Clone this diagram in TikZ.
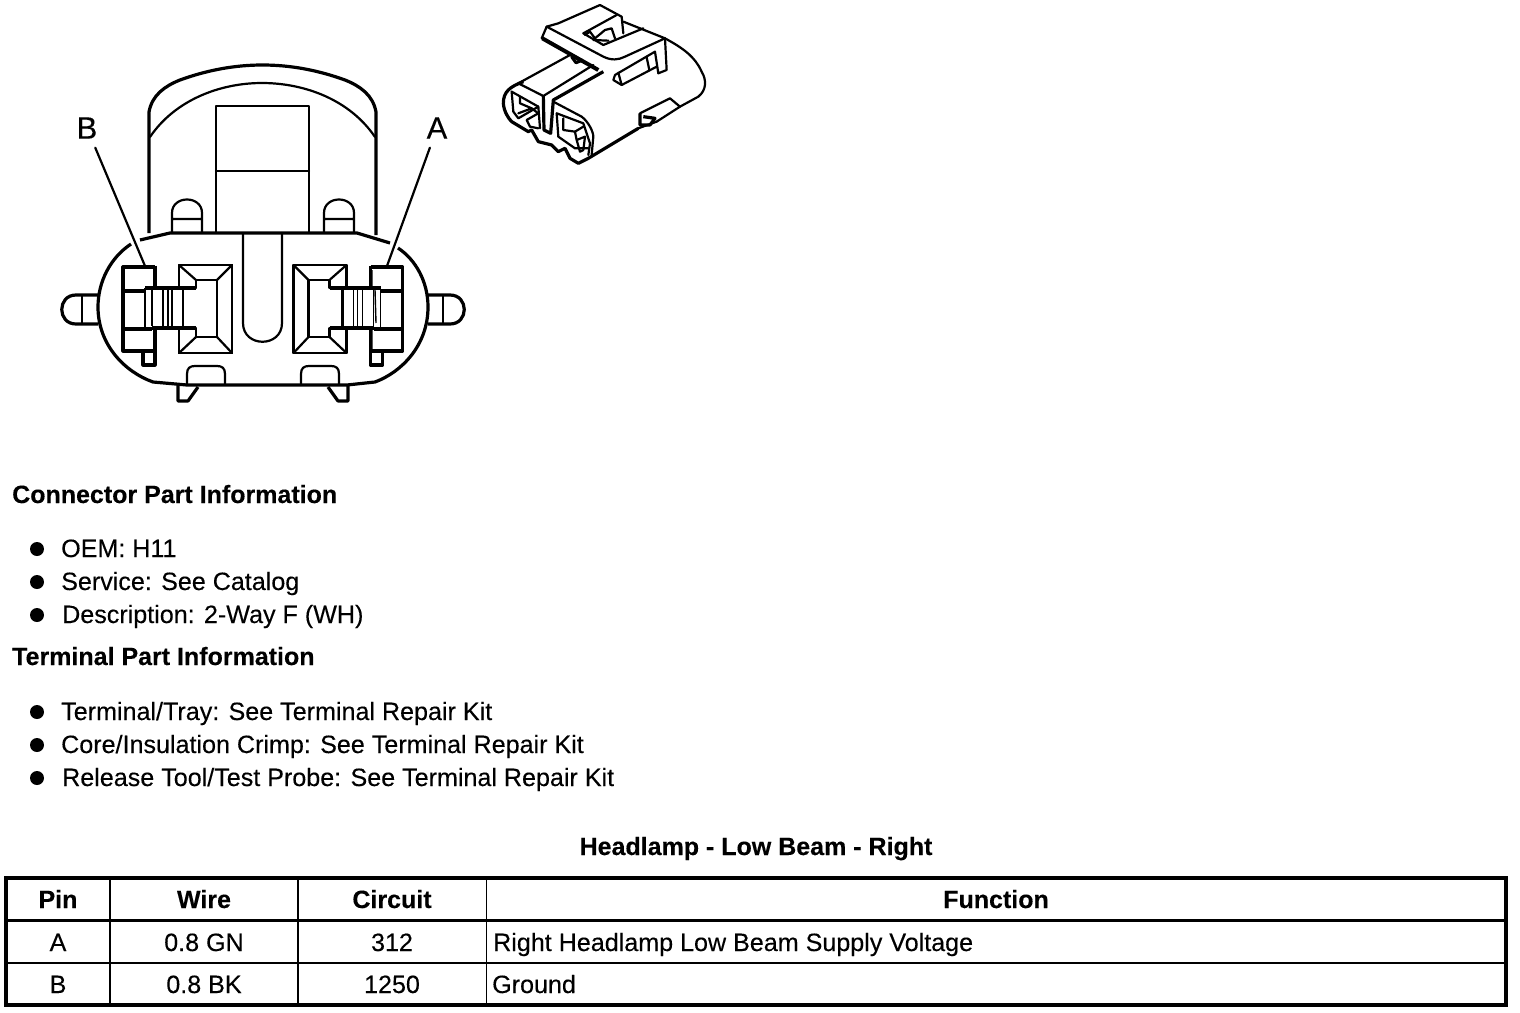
\documentclass[tikz,border=0pt]{standalone}
\usepackage{fontspec}
\setmainfont{Liberation Sans}[FakeBold=0.2,BoldFeatures={FakeBold=0.2}]
\tikzset{
  part/.style={line width=2.2pt,line join=round,line cap=round},
  heavy/.style={line width=3.2pt,line join=round},
  thinline/.style={line width=1.4pt},
  txt/.style={anchor=base west,inner sep=0pt,font=\fontsize{25.1}{28}\selectfont},
  head/.style={anchor=base west,inner sep=0pt,font=\fontsize{25}{28}\selectfont\bfseries},
  cell/.style={anchor=base,inner sep=0pt,font=\fontsize{25.1}{28}\selectfont},
  headcell/.style={anchor=base,inner sep=0pt,font=\fontsize{25}{28}\selectfont\bfseries},
  pinlabel/.style={inner sep=0pt,outer sep=9pt,font=\fontsize{31}{34}\selectfont},
  dot/.style={circle,fill=black,inner sep=0pt,minimum size=14pt},
}
\newcommand{\terminal}{
    \draw[heavy] (155,267) -- (123,267) -- (123,351) -- (155,351);
    \draw[heavy] (155,265.5) -- (155,288);
    \draw[heavy] (155,329) -- (155,365) -- (143,365) -- (143,351);
    \draw[heavy] (123,291) -- (145,291) (123,329) -- (152,329);
    \draw[heavy] (145,288) -- (196,288) (152,328) -- (196,328);
    \draw[thinline] (145,288) -- (145,328) (152,288) -- (152,326);
    \draw[thinline] (163,288) -- (163,328) (168,288) -- (168,328) (172,288) -- (172,328);
    \draw[part] (183,288) -- (183,328);
    \draw[part] (179,288) -- (179,265) -- (232,265) -- (232,353) -- (179,353) -- (179,328);
    \draw[part] (196,288) -- (196,280) -- (217,280) -- (217,337) -- (196,337) -- (196,328);
    \draw[part] (179,265) -- (196,280) (232,265) -- (217,280) (232,353) -- (217,337) (179,353) -- (196,337);
}
\begin{document}
\begin{tikzpicture}[x=1pt,y=-1pt]
    \useasboundingbox (0,0) rectangle (1520,1012);
    % rear shell
    \draw[heavy] (149,233) -- (149,112) .. controls (152,95) and (165,86) .. (180,80) .. controls (235,60) and (290,60) .. (345,80) .. controls (360,86) and (373,95) .. (376,112) -- (376,235);
    \draw[part] (150,137) .. controls (175,100) and (220,83) .. (262,83) .. controls (305,83) and (350,100) .. (375,137);
    \draw[part] (216,233) -- (216,106) -- (309,106) -- (309,233) (216,171) -- (309,171);
    \draw[part] (172,233) -- (172,213) .. controls (172,195) and (202,195) .. (202,213) -- (202,233) (172,219) -- (202,219);
    \draw[part] (324,233) -- (324,213) .. controls (324,195) and (354,195) .. (354,213) -- (354,233) (324,219) -- (354,219);
    % body
    \draw[heavy] (140,240) -- (170,233) -- (357,233) -- (390,243);
    \draw[heavy] (131,244) .. controls (110,258) and (98,282) .. (98,307) .. controls (98,345) and (125,372) .. (153,382) -- (187,385) -- (347,385) -- (375,382) .. controls (402,372) and (428,345) .. (428,307) .. controls (428,282) and (416,260) .. (398,248);
    \draw[part] (243,233) -- (243,323) .. controls (243,348) and (282,348) .. (282,323) -- (282,233);
    % side tabs
    \draw[heavy] (98,295) -- (76,295) .. controls (57,295) and (57,324) .. (76,324) -- (98,324);
    \draw[part] (82,295) -- (82,324);
    \draw[heavy] (428,295) -- (450,295) .. controls (469,295) and (469,324) .. (450,324) -- (428,324);
    \draw[part] (443,295) -- (443,324);
    % bottom notches and feet
    \draw[part] (187,385) -- (187,374) .. controls (187,368) and (190,366) .. (195,366) -- (217,366) .. controls (222,366) and (225,368) .. (225,374) -- (225,385);
    \draw[part] (301,385) -- (301,374) .. controls (301,368) and (304,366) .. (309,366) -- (331,366) .. controls (336,366) and (339,368) .. (339,374) -- (339,385);
    \draw[heavy] (178,385) -- (178,401) -- (188,401) -- (198,387);
    \draw[heavy] (328,387) -- (338,401) -- (348,401) -- (348,385);
    % terminals
    \terminal
    \begin{scope}[shift={(525.5,0)},xscale=-1]
        \terminal
    \end{scope}
    \draw[thinline] (372,270) -- (372,288) (375,290) -- (376,323) (372,330) -- (372,352);
    % pin labels
    \node[pinlabel] (labB) at (87,128) {B};
    \node[pinlabel] (labA) at (437,128) {A};
    \coordinate (endB) at (145,266);
    \coordinate (endA) at (387,266);
    \draw[part] (labB) -- (endB);
    \draw[part] (labA) -- (endA);
    % connector sketch
    \begin{scope}[shift={(490,0)},x=0.3333pt,y=-0.3333pt]
        \draw[heavy] (100,245) .. controls (60,260) and (40,275) .. (40,310) .. controls (42,335) and (55,355) .. (65,365) -- (115,395) -- (125,390) -- (145,425) -- (185,435) -- (205,455) -- (225,445) -- (240,475) -- (265,490) -- (295,475) -- (445,385);
        \draw[part] (500,365) -- (445,385);
        \draw[part] (570,320) -- (625,290) .. controls (650,270) and (650,240) .. (635,215) .. controls (615,170) and (580,145) .. (525,115);
        \draw[part] (85,250) -- (240,165);
        \draw[part] (85,250) -- (160,288) -- (310,195);
        \draw[heavy] (160,288) -- (162,390) -- (182,400) -- (190,300) -- (340,215);
        \draw[part] (190,305) -- (275,350) .. controls (295,365) and (310,395) .. (310,410) -- (305,465);
        % left opening
        \draw[part] (65,275) -- (70,335) -- (85,355) -- (145,320) -- (150,385);
        \draw[part] (65,275) -- (145,320);
        \draw[part] (90,290) -- (90,310) -- (125,325) -- (85,340);
        \draw[part] (125,325) -- (145,340) -- (110,360) -- (120,380) -- (145,385);
        % right opening
        \draw[part] (200,340) -- (205,410) -- (255,445) -- (295,445);
        \draw[part] (200,340) -- (280,370) -- (300,430) -- (295,465);
        \draw[part] (220,355) -- (220,390) -- (255,395) -- (280,380);
        \draw[part] (255,395) -- (260,420) -- (285,410) -- (280,450) -- (270,455) -- (260,420);
        % clip
        \draw[line width=4pt,line join=round] (157,115) -- (325,210);
        \draw[part] (170,80) -- (155,115);
        \draw[part] (170,80) -- (205,70) -- (330,15) -- (395,50) -- (400,100);
        \draw[part] (170,80) -- (340,170) .. controls (365,182) and (385,180) .. (405,170) -- (525,115) -- (400,65);
        \draw[part] (525,115) -- (530,210) -- (505,220) -- (495,155) -- (375,225) -- (370,240) -- (395,255) -- (500,200);
        \draw[part] (470,172) -- (478,210);
        \draw[part] (385,218) -- (395,255);
        \draw[part] (280,100) -- (380,45);
        \draw[part] (280,100) -- (340,135) -- (460,85);
        \draw[part] (285,105) -- (300,95) -- (315,115) -- (345,90) -- (365,85) -- (375,115);
        \draw[part] (310,120) -- (355,122);
        \draw[heavy] (245,170) -- (258,188) -- (278,180);
        % side pin
        \draw[part] (450,340) -- (540,295) -- (570,320) -- (500,365);
        \draw[heavy] (450,340) -- (450,375) -- (480,375) -- (495,355) -- (460,350);
    \end{scope}
    % part information
    \node[head] (conninfo) at (12,503) {Connector Part Information};
    \node[txt] (oem) at (61,557) {OEM: H11};
    \node[txt] (service) at (61,590) {Service: See Catalog};
    \node[txt] (descr) at (62,623) {Description: 2-Way F (WH)};
    \node[head] (terminfo) at (12,665) {Terminal Part Information};
    \node[txt] (tray) at (61,720) {Terminal/Tray: See Terminal Repair Kit};
    \node[txt] (crimp) at (61,753) {Core/Insulation Crimp: See Terminal Repair Kit};
    \node[txt] (probe) at (62,786) {Release Tool/Test Probe: See Terminal Repair Kit};
    \foreach \y/\n in {549/a,582/b,615/c,712/d,745/e,778/f}
        \node[dot] (bullet\n) at (37,\y) {};
    % table
    \node[headcell] (title) at (756,855) {Headlamp - Low Beam - Right};
    \draw[line width=4pt] (5.5,878) rectangle (1506,1005);
    \draw[line width=3pt] (5.5,920) -- (1506,920);
    \draw[line width=2pt] (5.5,962.5) -- (1506,962.5);
    \foreach \x in {110,298,486.5}
        \draw[thinline] (\x,878) -- (\x,1005);
    \node[headcell] (hpin) at (58,908) {Pin};
    \node[headcell] (hwire) at (204,908) {Wire};
    \node[headcell] (hcircuit) at (392,908) {Circuit};
    \node[headcell] (hfunc) at (996,908) {Function};
    \node[cell] (pina) at (58,951) {A};
    \node[cell] (wirea) at (204,951) {0.8 GN};
    \node[cell] (circa) at (392,951) {312};
    \node[txt] (funca) at (493,951) {Right Headlamp Low Beam Supply Voltage};
    \node[cell] (pinb) at (58,993) {B};
    \node[cell] (wireb) at (204,993) {0.8 BK};
    \node[cell] (circb) at (392,993) {1250};
    \node[txt] (funcb) at (492,993) {Ground};
\end{tikzpicture}
\end{document}
